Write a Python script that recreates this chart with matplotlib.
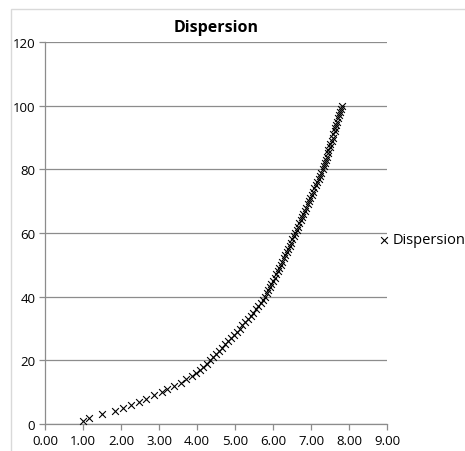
import numpy as np
import matplotlib.pyplot as plt
from matplotlib.patches import Rectangle

# values (y = 1..100)
y_vals = list(range(1, 101))
x_vals = [
    1.00, 1.17, 1.51, 1.83, 2.04, 2.26, 2.47, 2.67, 2.86, 3.07,
    3.22, 3.40, 3.57, 3.72, 3.86, 3.98, 4.08, 4.17, 4.25, 4.33,
    4.41, 4.49, 4.57, 4.65, 4.73, 4.81, 4.89, 4.97, 5.05, 5.12,
    5.19, 5.27, 5.34, 5.41, 5.48, 5.55, 5.61, 5.68, 5.74, 5.80,
    5.84, 5.88, 5.92, 5.96, 6.00, 6.04, 6.08, 6.12, 6.16, 6.20,
    6.24, 6.28, 6.32, 6.36, 6.40, 6.44, 6.47, 6.51, 6.55, 6.58,
    6.62, 6.66, 6.69, 6.73, 6.77, 6.80, 6.84, 6.87, 6.91, 6.95,
    6.98, 7.02, 7.06, 7.09, 7.13, 7.16, 7.20, 7.24, 7.27, 7.31,
    7.34, 7.36, 7.39, 7.41, 7.44, 7.46, 7.49, 7.51, 7.54, 7.57,
    7.59, 7.62, 7.64, 7.67, 7.69, 7.72, 7.74, 7.77, 7.79, 7.82,
]
x_ticks = np.arange(0, 9.5, 1.0)
y_ticks = np.arange(0, 121, 20)
title = "Dispersion"
series_name = "Dispersion"

plt.rcParams['font.family'] = ['Open Sans', 'DejaVu Sans']

W, H = 465, 452
fig = plt.figure(figsize=(W / 100, H / 100), dpi=100)
fig.patch.set_facecolor('white')

# outer chart border
fig.patches.append(Rectangle((11 / W, -0.1), 1.2, 1 - 10 / H + 0.1, transform=fig.transFigure,
                             fill=False, edgecolor='#d9d9d9', linewidth=1))

ax = fig.add_axes([45 / W, 1 - 425 / H, (387 - 45) / W, (425 - 43) / H])
sc = ax.scatter(x_vals, y_vals, marker='x', color='black', s=24, linewidths=0.8,
                label=series_name, zorder=3, clip_on=False)

ax.set_xlim(0, 9)
ax.set_ylim(0, 120)
ax.set_xticks(x_ticks)
ax.set_xticklabels([f"{v:.2f}" for v in x_ticks])
ax.set_yticks(y_ticks)
ax.set_yticklabels([f"{int(v)}" for v in y_ticks])

ax.yaxis.grid(True, color='#8c8c8c', linewidth=0.9)
ax.set_axisbelow(True)
for s in ['top', 'right']:
    ax.spines[s].set_visible(False)
for s in ['left', 'bottom']:
    ax.spines[s].set_color('#8c8c8c')
    ax.spines[s].set_linewidth(0.9)
ax.tick_params(axis='both', colors='#8c8c8c', length=4, width=0.9, labelsize=9.5,
               labelcolor='black', direction='out')
ax.tick_params(axis='y', pad=3)
ax.tick_params(axis='x', pad=3)

fig.text(216 / W, 1 - 28 / H, title, ha='center', va='center', fontsize=11.5, fontweight='bold')

# legend sits at the right edge and runs off it, like the reference
fig.legend(handles=[sc], loc='center left', bbox_to_anchor=(368 / W, 1 - 241 / H),
           frameon=False, fontsize=10.5, handletextpad=0.0, handlelength=1.2, borderpad=0)

fig.savefig('out.png', dpi=100)
